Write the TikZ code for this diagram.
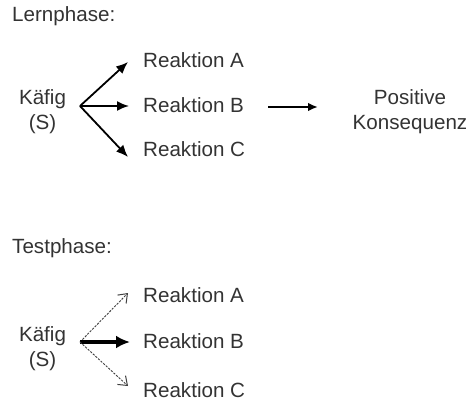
\documentclass[tikz,border=0pt]{standalone}
\usepackage{fontspec}
\setmainfont{Liberation Sans}
\usetikzlibrary{arrows.meta}
\definecolor{ink}{rgb}{0.2,0.2,0.2}
\begin{document}
\begin{tikzpicture}[x=1pt,y=-1pt,
  every node/.style={font=\fontsize{20.6}{25}\selectfont, text=ink, inner sep=0pt},
  label/.style={anchor=base west},
  stim/.style={align=center, anchor=base},
  learnarrow/.style={line width=1.8pt, black, -{Latex[length=12pt,width=10pt]}},
  weakarrow/.style={line width=0.9pt, black!75, dash pattern=on 2.2pt off 1.3pt,
                    -{Straight Barb[length=8pt,width=12pt,line width=1pt]}},
  strongarrow/.style={line width=4pt, black, -{Latex[length=14pt,width=13pt]}},
  outarrow/.style={line width=2pt, black, -{Latex[length=10pt,width=8.5pt]}}]
\useasboundingbox (0,0) rectangle (473,403);

% ---- learning phase ----
\node[label] (lern) at (12,22) {Lernphase:};
\node[stim] (k1) at (42.5,130) {Käfig\\(S)};
\coordinate (o1) at (80,106);
\node[label] (a1) at (143,68) {Reaktion A};
\node[label] (b1) at (143,113) {Reaktion B};
\node[label] (c1) at (143,157) {Reaktion C};
\coordinate (ta1) at (128,62);
\coordinate (tb1) at (129,106);
\coordinate (tc1) at (128,157);
\draw[learnarrow] (o1) -- (ta1);
\draw[learnarrow] (o1) -- (tb1);
\draw[learnarrow] (o1) -- (tc1);
\node[stim] (kons) at (410,130) {Positive\\Konsequenz};
\coordinate (sb1) at (268,107);
\coordinate (ek) at (318,107);
\draw[outarrow] (sb1) -- (ek);

% ---- test phase ----
\node[label] (test) at (12,253) {Testphase:};
\node[stim] (k2) at (42.5,366) {Käfig\\(S)};
\coordinate (o2) at (80,342);
\node[label] (a2) at (143,302) {Reaktion A};
\node[label] (b2) at (143,348) {Reaktion B};
\node[label] (c2) at (143,397) {Reaktion C};
\coordinate (ta2) at (128,293);
\coordinate (tb2) at (130,342);
\coordinate (tc2) at (128,386);
\draw[weakarrow] (o2) -- (ta2);
\draw[strongarrow] (o2) -- (tb2);
\draw[weakarrow] (o2) -- (tc2);
\end{tikzpicture}
\end{document}
